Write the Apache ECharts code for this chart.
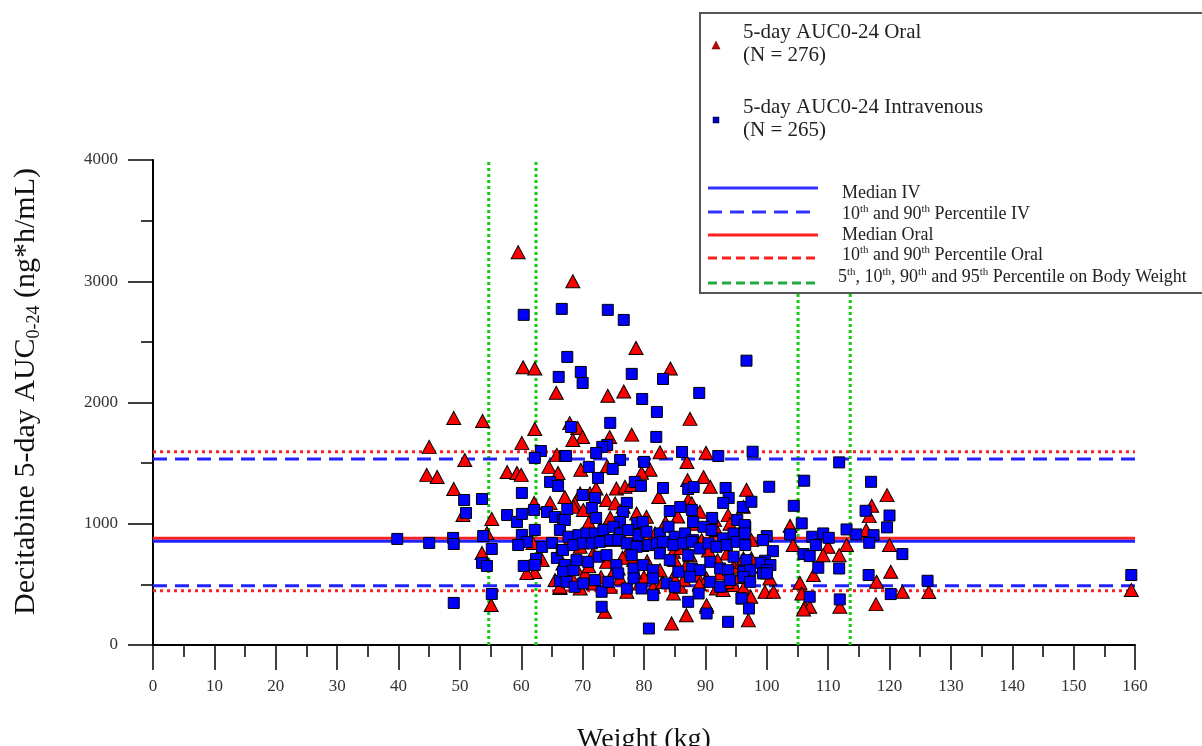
<!DOCTYPE html>
<html>
<head>
<meta charset="utf-8">
<script src="https://cdn.jsdelivr.net/npm/echarts@6/dist/echarts.min.js"></script>
<style>
  html, body { margin: 0; padding: 0; background: #fff; }
  #chart { width: 1202px; height: 746px; }
</style>
</head>
<body>
<div id="chart"></div>
<script>
// weight (kg), 5-day AUC0-24 (ng*h/mL)
var oralPoints = [
  [59.5,3240],[68.4,3000],[60.3,2290],[62.2,2280],[78.7,2450],[84.3,2280],[65.7,2080],[74.1,2055],
  [76.7,2090],[87.5,1865],[78.0,1735],[67.9,1830],[69.2,1790],[70.0,1715],[68.4,1690],[74.4,1715],
  [82.6,1590],[90.1,1585],[87.0,1510],[69.7,1445],[74.0,1475],[81.0,1445],[79.6,1420],[89.7,1385],
  [90.8,1305],[87.1,1360],[82.4,1220],[96.7,1280],[67.1,1220],
  [49.0,1873],[53.7,1848],[62.2,1782],[60.1,1667],[45.0,1634],[50.8,1526],[65.8,1568],[64.5,1469],
  [44.6,1403],[46.3,1386],[57.7,1427],[59.3,1419],[60.0,1403],[66.0,1419],[49.0,1287],[50.5,1072],
  [55.2,1040],[62.1,1172],[64.7,1172],[53.6,759],[54.4,924],[55.1,330],[62.2,602],[60.9,594],
  [63.4,701],[66.3,470],[65.5,536],[61.9,842],
  [69.6,1250],[71.2,1250],[72.2,1291],[75.5,1291],[76.9,1305],[78.0,1319],[73.9,1195],[75.3,1168],
  [76.6,1140],[68.7,1168],[68.5,1140],[70.1,1113],[78.8,1085],[80.4,1058],[87.2,1195],[87.8,1168],
  [89.1,1099],[93.7,1071],[95.1,906],[96.2,1140],[67.9,865],[69.6,810],[71.7,755],[75.0,865],
  [77.2,755],[79.6,824],[81.8,920],[84.8,769],[89.4,865],[91.8,948],[93.5,755],[96.2,714],
  [66.8,673],[69.0,631],[70.4,590],[73.9,686],[75.8,631],[78.3,700],[81.0,577],[82.6,617],
  [84.8,563],[86.9,659],[88.6,577],[90.2,549],[92.4,590],[94.6,645],[95.9,686],[66.3,480],
  [68.5,535],[69.6,466],[71.7,508],[74.5,480],[76.1,549],[77.2,439],[79.3,508],[81.5,480],
  [84.8,425],[85.9,480],[86.9,246],[90.2,315],[91.8,466],[92.9,453],[94.6,494],[96.2,466],
  [73.6,274],[84.5,178],[90.2,329],
  [71.0,1010],[73.0,960],[74.5,1050],[76.0,990],[80.0,960],[83.5,1010],[85.5,1060],[88.0,1000],
  [91.5,1030],[94.0,1000],[70.5,900],[72.5,880],[83.0,870],[86.0,800],[90.5,780],[92.0,700],
  [76.5,720],[80.5,690],[85.0,700],[87.5,740],[71.0,650],[73.0,560],[75.0,600],[80.0,560],
  [83.0,520],[86.5,540],[89.0,500],[93.5,520],[78.5,600],[95.5,560],
  [119.6,1236],[117.1,1148],[116.7,1063],[103.8,983],[116.2,948],[97.5,865],[104.3,824],[113.0,824],
  [120.0,824],[110.0,810],[109.2,741],[111.8,741],[97.5,714],[99.4,645],[100.5,549],[107.6,577],
  [120.2,604],[105.4,513],[117.9,521],[97.4,398],[99.7,439],[101.1,439],[105.7,425],[106.2,315],
  [107.0,315],[106.0,293],[111.9,315],[117.8,337],[122.1,439],[97.0,205],[126.4,437],[159.4,453]
];

var ivPoints = [
  [60.4,2723],[66.6,2772],[67.5,2376],[66.1,2211],[63.2,1600],[62.2,1543],[67.1,1559],[64.7,1345],
  [66.0,1312],[50.7,1196],[53.6,1204],[51.0,1089],[60.1,1254],[57.7,1072],[59.3,1015],[60.1,1081],
  [62.1,1114],[62.2,949],[64.2,1097],[65.5,1056],[66.8,1031],[67.5,1122],[39.8,875],[45.0,842],
  [48.9,883],[49.0,833],[53.8,899],[55.2,792],[53.6,677],[54.4,652],[60.1,908],[60.9,850],
  [59.5,825],[62.4,710],[60.4,652],[62.2,660],[63.4,809],[65.0,842],[65.8,718],[66.6,784],
  [67.1,660],[67.0,594],[66.3,528],[55.2,421],[49.0,347],
  [74.1,2764],[76.7,2681],[69.7,2252],[70.0,2161],[78.0,2236],[83.1,2194],[79.7,2029],[89.0,2079],
  [96.7,2345],[82.1,1922],[74.5,1832],[68.1,1798],[82.0,1716],[74.0,1650],[73.2,1634],[86.2,1592],
  [92.1,1559],[67.3,1559],[72.2,1584],[76.1,1526],[74.9,1452],[80.0,1510],[71.0,1469],[72.5,1378],
  [78.5,1345],[79.5,1312],[83.1,1295],[87.2,1287],[88.1,1303],[93.3,1295],[93.8,1213],[92.9,1172],
  [95.2,1031],[70.0,1237],[72.0,1213],[71.5,1130],[77.2,1172],[76.6,1097],[84.2,1105],[85.9,1138],
  [87.8,1114],[88.0,1015],[91.1,1048],[96.1,1138],[67.1,1031],[66.3,949],[72.2,1048],[76.1,1015],
  [78.9,1006],[79.8,1015],
  [67.7,893],[69.3,906],[70.6,920],[72.0,920],[73.4,948],[75.0,975],[76.1,920],[77.4,948],
  [79.1,906],[80.4,934],[82.6,920],[84.0,975],[85.0,893],[86.7,920],[88.0,865],[89.7,975],
  [91.0,948],[92.9,879],[94.6,920],[96.5,975],
  [66.8,783],[68.5,824],[70.1,838],[71.5,838],[72.8,851],[74.5,865],[75.8,865],[77.2,838],
  [78.8,810],[80.7,824],[82.1,838],[83.1,851],[84.8,824],[86.4,838],[87.8,851],[89.1,796],
  [90.5,838],[91.8,810],[93.5,824],[95.1,851],[96.5,824],
  [66.8,604],[68.5,617],[69.0,700],[70.9,686],[72.6,728],[73.9,741],[75.5,659],[75.8,590],
  [78.0,741],[78.3,631],[79.9,659],[81.5,617],[82.6,755],[84.2,700],[85.6,604],[87.2,741],
  [87.8,631],[89.1,617],[90.8,686],[92.4,631],[93.7,617],[94.6,728],[96.2,617],[96.7,700],
  [67.4,521],[68.7,480],[70.1,508],[72.0,535],[73.1,439],[74.2,521],[77.2,466],[78.3,549],
  [79.6,466],[81.5,549],[81.5,411],[83.7,508],[85.0,480],[87.5,563],[88.9,425],[90.8,521],
  [92.4,480],[94.0,535],[95.9,384],[73.1,315],[80.8,136],[87.2,356],[90.2,260],[93.7,191],
  [97.7,1594],[111.8,1506],[106.1,1355],[117.0,1346],[100.4,1305],[97.5,1181],[104.4,1148],[116.1,1107],
  [120.0,1068],[105.7,1003],[119.6,970],[96.4,989],[96.4,920],[100.0,898],[99.4,865],[103.8,912],
  [107.4,893],[109.2,920],[110.1,884],[113.0,953],[114.6,912],[117.4,906],[116.7,843],[108.0,824],
  [101.0,774],[106.0,750],[107.0,733],[122.1,750],[99.7,695],[99.0,678],[100.6,659],[100.0,617],
  [108.4,637],[111.8,631],[96.2,604],[97.3,617],[96.2,563],[99.4,590],[100.0,590],[97.3,521],
  [116.6,577],[126.2,530],[120.2,420],[107.0,398],[111.9,376],[95.9,384],[97.1,301],[159.4,577]
];

// summary lines
var medianIV = 855;
var medianOral = 880;
var pctIV = [489, 1534];
var pctOral = [448, 1594];
var weightPct = [54.7, 62.4, 105.1, 113.6];

var xTicks = { min: 0, max: 160, interval: 10 };
var yTicks = { min: 0, max: 4000, interval: 1000 };

var serif = 'Liberation Serif';

function hLine(v, color, dash) {
  return {
    type: 'line',
    data: [[xTicks.min, v], [xTicks.max, v]],
    showSymbol: false,
    silent: true,
    z: 1,
    lineStyle: { color: color, width: 3, type: dash }
  };
}
function vLine(w) {
  return {
    type: 'line',
    data: [[w, yTicks.min], [w, yTicks.max]],
    showSymbol: false,
    silent: true,
    z: 1,
    lineStyle: { color: '#11cc11', width: 3, type: [3, 3] }
  };
}

var series = [];
weightPct.forEach(function (w) { series.push(vLine(w)); });
series.push(hLine(pctOral[0], '#ff2020', [3, 4]));
series.push(hLine(pctOral[1], '#ff2020', [3, 4]));
series.push(hLine(pctIV[0], '#2222ff', [14, 8]));
series.push(hLine(pctIV[1], '#2222ff', [14, 8]));
series.push(hLine(medianOral, '#ff2020', 'solid'));
series.push(hLine(medianIV, '#2222ff', 'solid'));
series.push({
  name: 'Oral',
  type: 'scatter',
  symbol: 'triangle',
  symbolSize: [14, 13],
  z: 3,
  data: oralPoints,
  itemStyle: { color: '#ff0000', borderColor: '#000', borderWidth: 1, opacity: 1 }
});
series.push({
  name: 'IV',
  type: 'scatter',
  symbol: 'rect',
  symbolSize: 11,
  z: 3,
  data: ivPoints,
  itemStyle: { color: '#0000ff', borderColor: '#000', borderWidth: 1, opacity: 1 }
});

var sup = { s: { fontSize: 11, fontFamily: serif, verticalAlign: 'top', lineHeight: 10, fill: '#222' } };

function legendLine(y, color, dash) {
  return {
    type: 'line',
    z: 101,
    shape: { x1: 708, y1: y, x2: 818, y2: y },
    style: { stroke: color, lineWidth: 3, lineDash: dash }
  };
}
function legendText(x, y, text, size) {
  return {
    type: 'text',
    z: 101,
    x: x, y: y,
    style: {
      text: text, fill: '#222', font: size + 'px "' + serif + '"',
      verticalAlign: 'middle', lineHeight: size + 2, rich: sup
    }
  };
}

var chart = echarts.init(document.getElementById('chart'));
chart.setOption({
  animation: false,
  backgroundColor: '#fff',
  grid: { left: 153, right: 67, top: 160, bottom: 101, outerBoundsMode: 'none' },
  xAxis: {
    type: 'value',
    min: xTicks.min, max: xTicks.max, interval: xTicks.interval,
    name: 'Weight (kg)',
    nameLocation: 'middle',
    nameGap: 81,
    nameTextStyle: { fontFamily: serif, fontSize: 28, color: '#111' },
    axisLine: { lineStyle: { color: '#000', width: 2 } },
    axisTick: { length: 25, lineStyle: { color: '#000', width: 1.5 } },
    minorTick: { show: true, splitNumber: 2, length: 12, lineStyle: { color: '#000', width: 1.5 } },
    axisLabel: { fontFamily: serif, fontSize: 17, color: '#333', margin: 33 },
    splitLine: { show: false }
  },
  yAxis: {
    type: 'value',
    min: yTicks.min, max: yTicks.max, interval: yTicks.interval,
    name: '{a|Decitabine 5-day AUC}{s|0-24}{a| (ng*h/mL)}',
    nameLocation: 'middle',
    nameRotate: 90,
    nameGap: 110,
    nameTextStyle: {
      padding: [0, 0, 0, 22],
      rich: {
        a: { fontFamily: serif, fontSize: 30, color: '#111', lineHeight: 34 },
        s: { fontFamily: serif, fontSize: 18, color: '#111', verticalAlign: 'bottom', lineHeight: 20 }
      }
    },
    axisLine: { lineStyle: { color: '#000', width: 2 } },
    axisTick: { length: 25, lineStyle: { color: '#000', width: 1.5 } },
    minorTick: { show: true, splitNumber: 2, length: 12, lineStyle: { color: '#000', width: 1.5 } },
    axisLabel: {
      fontFamily: serif, fontSize: 17, color: '#333', margin: 35,
      formatter: function (v) { return String(v); }
    },
    splitLine: { show: false }
  },
  graphic: [
    {
      type: 'rect',
      z: 100,
      shape: { x: 700, y: 13, width: 520, height: 280 },
      style: { fill: '#fff', stroke: '#555', lineWidth: 2 }
    },
    { type: 'polygon', z: 101, shape: { points: [[716, 41], [720, 49], [712, 49]] },
      style: { fill: '#cc0000', stroke: '#400', lineWidth: 0.5 } },
    { type: 'rect', z: 101, shape: { x: 713, y: 117, width: 6, height: 6 },
      style: { fill: '#0000cc', stroke: '#000', lineWidth: 0.5 } },
    legendText(743, 32, '5-day AUC0-24 Oral', 21),
    legendText(743, 55, '(N = 276)', 21),
    legendText(743, 107, '5-day AUC0-24 Intravenous', 21),
    legendText(743, 130, '(N = 265)', 21),
    legendLine(188, '#3333ff', null),
    legendLine(212, '#3333ff', [14, 8]),
    legendLine(235, '#ff2020', null),
    legendLine(258, '#ff2020', [9, 5]),
    legendLine(283, '#22aa44', [9, 5]),
    legendText(842, 193, 'Median IV', 18),
    legendText(842, 214, '10{s|th} and 90{s|th} Percentile IV', 18),
    legendText(842, 235, 'Median Oral', 18),
    legendText(842, 255, '10{s|th} and 90{s|th} Percentile Oral', 18),
    legendText(838, 277, '5{s|th}, 10{s|th}, 90{s|th} and 95{s|th} Percentile on Body Weight', 18)
  ],
  series: series
});
</script>
</body>
</html>
